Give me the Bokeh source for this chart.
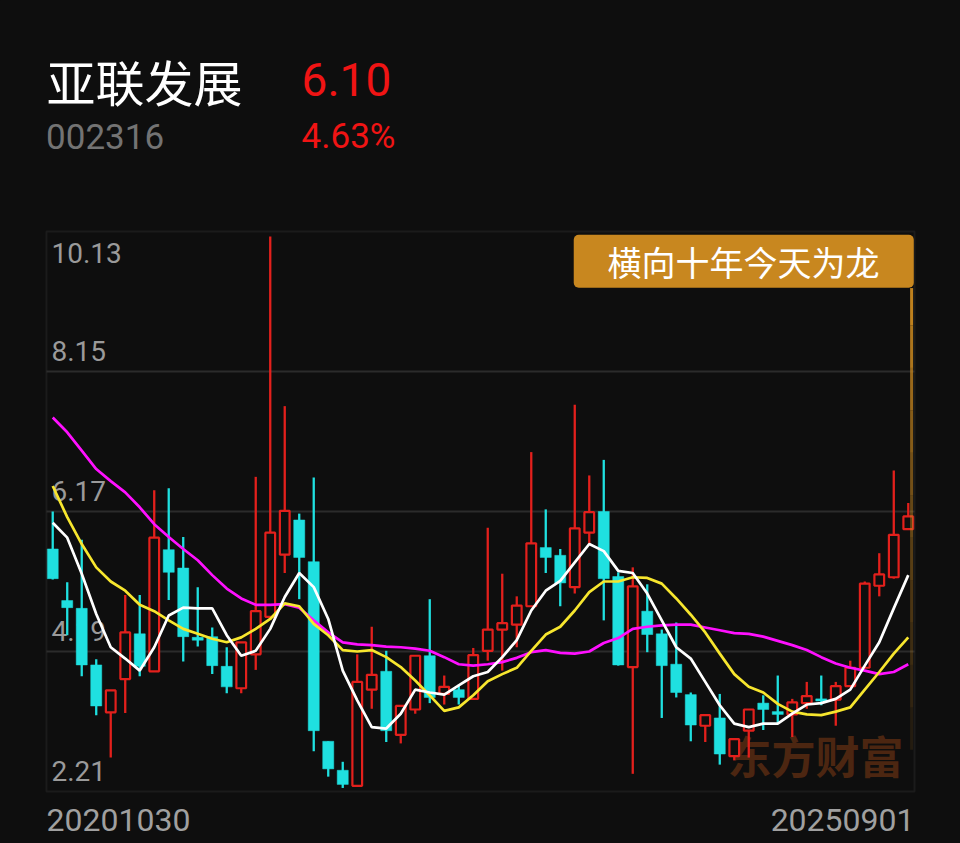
from bokeh.plotting import figure
from bokeh.models import Range1d, Label, BoxAnnotation, ColumnDataSource
from bokeh.core.properties import value
from bokeh.embed import file_html
from bokeh.resources import INLINE

# ---------------- data (monthly K-line, 2020-10 .. 2025-09) ----------------
stock_name = "亚联发展"
stock_code = "002316"
last_price = "6.10"
change_pct = "4.63%"
badge_text = "横向十年今天为龙"
watermark = "东方财富"
date_labels = ["20201030", "20250901"]

open_ = [5.64, 4.91, 4.80, 4.00, 3.33, 3.80, 4.44, 3.91, 5.63, 5.37,
         4.39, 4.40, 3.98, 3.67, 4.15, 4.68, 5.56, 6.05, 5.46, 2.92,
         2.51, 2.29, 3.65, 3.91, 3.01, 3.37, 4.13, 3.59, 3.65, 3.52,
         4.20, 4.50, 4.57, 4.83, 5.66, 5.55, 5.10, 5.87, 6.17, 5.25,
         3.97, 4.76, 4.44, 4.01, 3.58, 3.14, 3.25, 2.71, 3.07, 3.46,
         3.34, 3.30, 3.46, 3.52, 3.51, 3.70, 3.96, 5.12, 5.24, 5.92]
high = [6.17, 5.17, 5.77, 4.08, 3.64, 4.99, 4.99, 6.47, 6.50, 5.81,
        5.10, 4.53, 4.25, 4.32, 6.66, 10.06, 7.66, 6.14, 6.65, 2.92,
        2.63, 4.15, 4.54, 4.20, 3.42, 4.13, 4.93, 3.85, 3.72, 4.24,
        5.94, 5.29, 4.97, 7.01, 6.20, 5.64, 7.68, 6.68, 6.90, 5.31,
        5.38, 5.14, 4.50, 4.60, 3.61, 3.29, 3.59, 2.95, 3.37, 3.57,
        3.85, 3.52, 3.76, 3.85, 3.76, 4.06, 5.18, 5.58, 6.75, 6.29]
low = [5.21, 4.42, 3.84, 3.29, 2.69, 3.32, 3.84, 3.91, 4.92, 4.05,
       4.26, 3.87, 3.60, 3.60, 3.93, 4.68, 5.30, 4.93, 2.78, 2.42,
       2.26, 2.28, 3.38, 2.91, 2.89, 3.31, 3.46, 3.44, 3.44, 3.52,
       4.06, 3.92, 4.25, 4.83, 5.30, 4.83, 5.01, 5.71, 4.63, 3.99,
       2.46, 4.18, 3.25, 3.54, 2.92, 2.91, 2.59, 2.65, 2.69, 3.08,
       3.17, 2.98, 3.38, 3.43, 3.14, 3.70, 3.96, 4.97, 5.22, 5.92]
close = [5.22, 4.81, 4.00, 3.42, 3.64, 4.46, 3.98, 5.80, 5.31, 4.40,
         4.35, 3.99, 3.69, 4.32, 4.76, 5.87, 6.18, 5.52, 3.07, 2.53,
         2.31, 3.76, 3.86, 3.07, 3.42, 4.13, 3.54, 3.69, 3.54, 4.14,
         4.50, 4.59, 4.84, 5.72, 5.52, 5.16, 5.93, 6.16, 5.22, 4.00,
         5.11, 4.43, 3.99, 3.61, 3.15, 3.29, 2.74, 2.95, 3.37, 3.37,
         3.30, 3.47, 3.56, 3.49, 3.70, 3.96, 5.15, 5.28, 5.84, 6.10]

ma5 = [6.01, 5.80, 5.29, 4.72, 4.25, 4.09, 3.92, 4.25, 4.70, 4.81,
       4.80, 4.80, 4.42, 4.13, 4.20, 4.51, 4.96, 5.30, 5.10, 4.65,
       3.92, 3.50, 3.12, 3.10, 3.31, 3.65, 3.61, 3.58, 3.71, 3.84,
       3.90, 4.11, 4.35, 4.77, 5.05, 5.19, 5.45, 5.71, 5.61, 5.33,
       5.30, 5.01, 4.63, 4.25, 4.09, 3.76, 3.43, 3.17, 3.12, 3.17,
       3.17, 3.31, 3.44, 3.46, 3.52, 3.65, 3.99, 4.32, 4.80, 5.27]
ma10 = [6.53, 6.09, 5.71, 5.38, 5.18, 5.05, 4.85, 4.76, 4.63, 4.51,
        4.44, 4.37, 4.32, 4.39, 4.51, 4.65, 4.87, 4.83, 4.58, 4.42,
        4.21, 4.19, 4.21, 4.11, 3.97, 3.78, 3.57, 3.35, 3.40, 3.57,
        3.77, 3.87, 3.96, 4.20, 4.43, 4.54, 4.77, 5.03, 5.18, 5.18,
        5.24, 5.23, 5.15, 4.94, 4.71, 4.46, 4.16, 3.87, 3.69, 3.61,
        3.45, 3.34, 3.30, 3.29, 3.34, 3.40, 3.65, 3.90, 4.16, 4.39]
ma20 = [7.50, 7.29, 7.03, 6.77, 6.60, 6.44, 6.23, 5.99, 5.81, 5.64,
        5.48, 5.27, 5.08, 4.94, 4.85, 4.85, 4.86, 4.81, 4.63, 4.46,
        4.32, 4.29, 4.28, 4.26, 4.25, 4.23, 4.20, 4.11, 4.01, 3.99,
        4.01, 4.04, 4.10, 4.18, 4.21, 4.17, 4.16, 4.19, 4.31, 4.38,
        4.51, 4.54, 4.56, 4.57, 4.57, 4.53, 4.49, 4.45, 4.44, 4.40,
        4.34, 4.28, 4.21, 4.11, 4.02, 3.96, 3.92, 3.87, 3.90, 4.01]

y_ticks = [2.21, 4.19, 6.17, 8.15, 10.13]
y_tick_labels = ["2.21", "4.19", "6.17", "8.15", "10.13"]

# ---------------- styling ----------------
BG = "#0e0e0e"
UP = "#e3201c"
DOWN = "#1fe0e0"
NUM_FONT = "Roboto"
CJK_FONT = "Noto Sans CJK SC"

n = len(close)
idx = list(range(n))
W, H = 960, 843

# chart panel bounds (in data units); the canvas extends beyond them for header/footer text
x_lo, x_hi = -0.43, n - 1 + 0.43
y_lo, y_hi = y_ticks[0], y_ticks[-1]

p = figure(width=W, height=H, output_backend="svg", toolbar_location=None,
           x_range=Range1d(-3.602, 62.602), y_range=Range1d(1.4745, 13.397),
           min_border_left=0, min_border_right=0, min_border_top=0, min_border_bottom=0)
p.xaxis.visible = False
p.yaxis.visible = False
p.background_fill_color = BG
p.border_fill_color = BG
p.outline_line_color = None
p.xgrid.visible = False
p.ygrid.visible = False

# grid lines of the price panel
p.segment(x0=[x_lo] * 3, y0=y_ticks[1:-1], x1=[x_hi] * 3, y1=y_ticks[1:-1],
          line_color="#2b2b2b", line_width=2)

# watermark under the candles
p.text(x=[52.6], y=[2.72], text=[watermark], text_font=value(CJK_FONT), text_font_style="bold",
       text_font_size="44px", text_color="#4c2611", text_align="center", text_baseline="middle")

# y tick labels inside the panel
p.text(x=[-0.085] * 4, y=y_ticks[:-1], text=y_tick_labels[:-1], text_font=value(NUM_FONT),
       text_font_size="28px", text_color="#9a9a9a", text_align="left", text_baseline="middle",
       y_offset=-20)
p.text(x=[-0.085], y=[y_ticks[-1]], text=[y_tick_labels[-1]], text_font=value(NUM_FONT),
       text_font_size="28px", text_color="#9a9a9a", text_align="left", text_baseline="middle",
       y_offset=22)

# candles
up = [c >= o for o, c in zip(open_, close)]
src = ColumnDataSource(dict(
    x=idx, high=high, low=low,
    color=[UP if u else DOWN for u in up],
))
p.segment(x0="x", y0="low", x1="x", y1="high", source=src, line_color="color", line_width=2.3)

up_src = ColumnDataSource(dict(
    x=[i for i in idx if up[i]],
    top=[max(open_[i], close[i]) for i in idx if up[i]],
    bottom=[min(open_[i], close[i]) for i in idx if up[i]],
))
dn_src = ColumnDataSource(dict(
    x=[i for i in idx if not up[i]],
    top=[max(open_[i], close[i]) for i in idx if not up[i]],
    bottom=[min(open_[i], close[i]) for i in idx if not up[i]],
))
p.vbar(x="x", top="top", bottom="bottom", width=0.67, source=up_src,
       fill_color=BG, line_color=UP, line_width=2.2)
p.vbar(x="x", top="top", bottom="bottom", width=0.76, source=dn_src,
       fill_color=DOWN, line_color=DOWN, line_width=0.5)

# moving averages
p.line(idx, ma20, line_color="#ff10ff", line_width=2.7)
p.line(idx, ma10, line_color="#f7e62e", line_width=2.7)
p.line(idx, ma5, line_color="#ffffff", line_width=2.7)

# orange fading marker line at the right edge
seg_y = [9.33, 8.80, 8.20, 7.60, 7.00, 6.40, 5.80, 5.20, 4.60, 4.00, 3.40, 2.80]
seg_a = [0.95, 0.85, 0.75, 0.65, 0.55, 0.47, 0.40, 0.33, 0.26, 0.19, 0.12]
p.segment(x0=[59.23] * 11, y0=seg_y[:-1], x1=[59.23] * 11, y1=seg_y[1:],
          line_color="#c8871f", line_alpha=seg_a, line_width=3)

# panel frame
p.add_layout(BoxAnnotation(left=x_lo, right=x_hi, top=y_hi, bottom=y_lo,
                           fill_alpha=0, line_color="#3a3a3a", line_width=2))

# badge
p.add_layout(BoxAnnotation(left=35.93, right=59.38, top=10.083, bottom=9.334,
                           fill_color="#c8871f", fill_alpha=1.0, line_alpha=0,
                           border_radius=5))
p.add_layout(Label(x=47.64, y=9.706, text=badge_text, text_font=CJK_FONT, text_font_size="34px",
                   text_color="#ffffff", text_align="center", text_baseline="middle"))

# header texts
p.add_layout(Label(x=-0.43, y=12.27, text=stock_name, text_font=CJK_FONT, text_font_size="49px",
                   text_color="#ffffff", text_align="left", text_baseline="middle"))
p.add_layout(Label(x=17.16, y=12.28, text=last_price, text_font=NUM_FONT, text_font_size="46px",
                   text_color="#f01414", text_align="left", text_baseline="middle"))
p.add_layout(Label(x=-0.46, y=11.47, text=stock_code, text_font=NUM_FONT, text_font_size="35px",
                   text_color="#737373", text_align="left", text_baseline="middle"))
p.add_layout(Label(x=17.16, y=11.47, text=change_pct, text_font=NUM_FONT, text_font_size="35px",
                   text_color="#f01414", text_align="left", text_baseline="middle"))

# date labels
p.add_layout(Label(x=x_lo, y=1.80, text=date_labels[0], text_font=NUM_FONT, text_font_size="32px",
                   text_color="#a0a0a0", text_align="left", text_baseline="middle"))
p.add_layout(Label(x=x_hi, y=1.80, text=date_labels[1], text_font=NUM_FONT,
                   text_font_size="32px", text_color="#a0a0a0", text_align="right",
                   text_baseline="middle"))

html = file_html(p, INLINE)
html = html.replace("</head>", "<style>html,body{background-color:%s;}</style></head>" % BG, 1)
open("out.html", "w").write(html)
